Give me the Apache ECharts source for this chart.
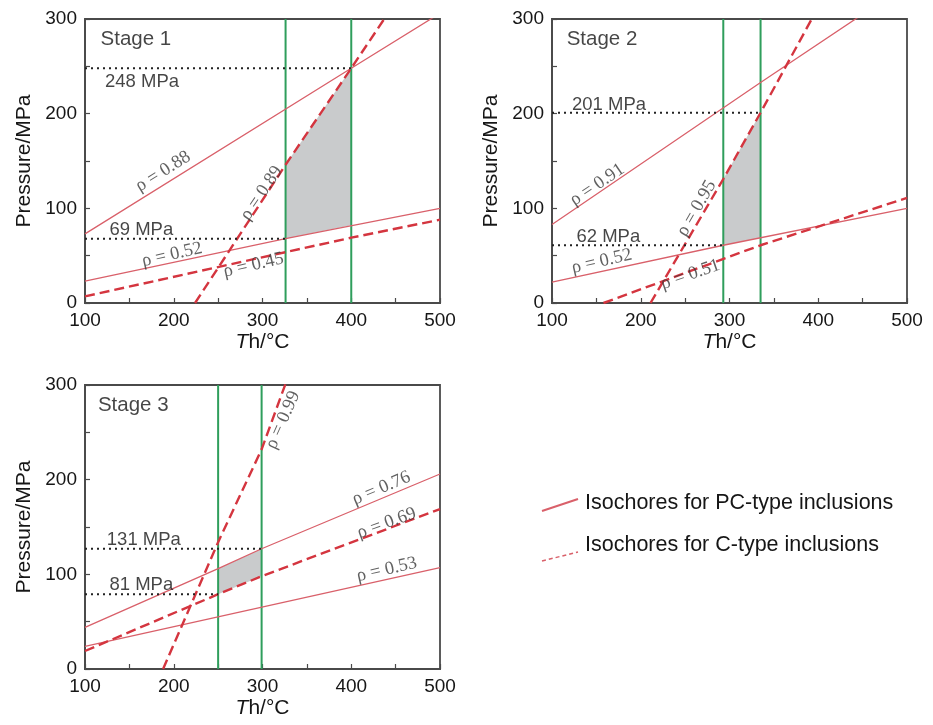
<!DOCTYPE html>
<html>
<head>
<meta charset="utf-8">
<script src="https://cdn.jsdelivr.net/npm/echarts@6/dist/echarts.min.js"></script>
<style>
html,body{margin:0;padding:0;background:#fff;}
#chart{width:933px;height:725px;}
</style>
</head>
<body>
<div id="chart"></div>
<script>
// ---------- Axis ranges / ticks ----------
const xRange = [100, 500];
const yRange = [0, 300];
const tickStep = 50;
const labelStep = 100;

// ---------- Stage 1 ----------
const s1_pc088 = [[100, 73], [400, 248], [500, 306]];
const s1_pc052 = [[100, 23], [326, 68], [500, 100]];
const s1_c089 = [[224, 0], [326, 146], [400, 248], [440, 304]];
const s1_c045 = [[100, 7], [400, 69], [500, 88]];
const s1_th = [326, 400];
const s1_press = [248, 68];
const s1_pressEnd = [400, 326];
const s1_pressText = ['248 MPa', '69 MPa'];
const s1_fill = [[326, 68], [326, 146], [400, 248], [400, 82]];

// ---------- Stage 2 ----------
const s2_pc091 = [[100, 83], [335, 233], [450, 305]];
const s2_pc052 = [[100, 22], [293, 61], [500, 100]];
const s2_c095 = [[211, 0], [293, 131], [335, 201], [395, 304]];
const s2_c051 = [[158, 0], [335, 61], [500, 111]];
const s2_th = [293, 335];
const s2_press = [201, 61];
const s2_pressEnd = [335, 293];
const s2_pressText = ['201 MPa', '62 MPa'];
const s2_fill = [[293, 61], [293, 131], [335, 201], [335, 69]];

// ---------- Stage 3 ----------
const s3_pc076 = [[100, 44], [250, 106], [299, 127], [500, 206]];
const s3_c069 = [[100, 19], [250, 79], [299, 98], [500, 169]];
const s3_pc053 = [[100, 24], [500, 107]];
const s3_c099 = [[188, 0], [250, 134], [299, 232], [327, 304]];
const s3_th = [250, 299];
const s3_press = [127, 79];
const s3_pressEnd = [299, 250];
const s3_pressText = ['131 MPa', '81 MPa'];
const s3_fill = [[250, 79], [250, 106], [299, 127], [299, 98]];

// ---------- Density labels: [x, P, text, angle] ----------
const s1_rhoLabels = [[188, 139, 'ρ = 0.88', 32], [299, 116, 'ρ = 0.89', 56], [198, 51, 'ρ = 0.52', 13], [290, 40, 'ρ = 0.45', 13]];
const s2_rhoLabels = [[151, 125, 'ρ = 0.91', 34], [263, 100, 'ρ = 0.95', 60], [156, 44, 'ρ = 0.52', 13], [256, 30, 'ρ = 0.51', 19]];
const s3_rhoLabels = [[323, 263, 'ρ = 0.99', 66], [434, 191, 'ρ = 0.76', 23], [440, 154, 'ρ = 0.69', 20], [440, 105, 'ρ = 0.53', 13]];
const stageText = ['Stage 1', 'Stage 2', 'Stage 3'];
const stagePos = [[117, 279], [116, 279], [114, 278]];
const pressLabelPos = [[[122, 234], [127, 77]], [[122, 209], [127, 70]], [[124, 136], [127, 89]]];

const legendText = ['Isochores for PC-type inclusions', 'Isochores for C-type inclusions'];

// ---------- Styles ----------
const SANS = 'Liberation Sans, Arial, sans-serif';
const SERIF = 'Liberation Serif, Times New Roman, serif';
const PC_COLOR = '#d9606a';
const C_COLOR = '#d4353f';
const GREEN = '#2f9e5c';
const FRAME = '#4a4a4a';
const FILL = '#c9cbcc';
const TXT = '#161616';

const grids = [
  {left: 85, top: 19, width: 355, height: 284},
  {left: 552, top: 19, width: 355, height: 284},
  {left: 85, top: 385, width: 355, height: 284}
];

function xAxisFor(i) {
  return {
    gridIndex: i, type: 'value', min: xRange[0], max: xRange[1], interval: tickStep,
    name: '{i|T}h/°C', nameLocation: 'middle', nameGap: 29,
    nameTextStyle: {fontFamily: SANS, fontSize: 21, color: TXT,
      rich: {i: {fontStyle: 'italic', fontFamily: SANS, fontSize: 21, color: TXT}}},
    axisLine: {show: true, lineStyle: {color: FRAME, width: 1.8}},
    axisTick: {show: true, inside: true, length: 5, lineStyle: {color: FRAME, width: 1.2}},
    axisLabel: {fontFamily: SANS, fontSize: 19, color: TXT, margin: 8,
      formatter: v => (v % labelStep === 0 ? String(v) : '')},
    splitLine: {show: false}
  };
}
function yAxisFor(i) {
  return {
    gridIndex: i, type: 'value', min: yRange[0], max: yRange[1], interval: tickStep,
    name: 'Pressure/MPa', nameLocation: 'middle', nameGap: 50,
    nameTextStyle: {fontFamily: SANS, fontSize: 21, color: TXT},
    axisLine: {show: true, lineStyle: {color: FRAME, width: 1.8}},
    axisTick: {show: true, inside: true, length: 5, lineStyle: {color: FRAME, width: 1.2}},
    axisLabel: {fontFamily: SANS, fontSize: 19, color: TXT, margin: 8,
      formatter: v => (v % labelStep === 0 ? String(v) : '')},
    splitLine: {show: false}
  };
}

function lineSeries(i, data, kind) {
  const dashed = kind === 'C';
  return {
    type: 'line', xAxisIndex: i, yAxisIndex: i, data: data, showSymbol: false, symbol: 'none',
    clip: true, silent: true, z: 5,
    lineStyle: dashed ? {color: C_COLOR, width: 2.4, type: [10, 5]} : {color: PC_COLOR, width: 1.3}
  };
}
function thSeries(i, xs) {
  return xs.map(x => ({
    type: 'line', xAxisIndex: i, yAxisIndex: i, data: [[x, yRange[0]], [x, yRange[1]]],
    symbol: 'none', silent: true, z: 4, lineStyle: {color: GREEN, width: 2}
  }));
}
function pressSeries(i, ps, ends) {
  return ps.map((p, k) => ({
    type: 'line', xAxisIndex: i, yAxisIndex: i, data: [[xRange[0], p], [ends[k], p]],
    symbol: 'none', silent: true, z: 6, lineStyle: {color: '#222', width: 2, type: [2, 4]}
  }));
}
function fillSeries(i, poly) {
  return {
    type: 'custom', xAxisIndex: i, yAxisIndex: i, data: [0], silent: true, z: 1,
    renderItem: (params, api) => ({
      type: 'polygon',
      shape: {points: poly.map(p => api.coord(p))},
      style: {fill: FILL, stroke: null}
    })
  };
}
function textSeries(i, items, opts) {
  return {
    type: 'scatter', xAxisIndex: i, yAxisIndex: i, symbolSize: 1, silent: true, z: 10,
    itemStyle: {color: 'rgba(0,0,0,0)'},
    data: items.map(it => ({
      value: [it[0], it[1]],
      label: Object.assign({show: true, formatter: it[2], rotate: it[3] || 0}, opts)
    }))
  };
}

function panel(i, pcLines, cLines, th, press, pressEnd, pressText, fill, rhoLabels) {
  const s = [];
  s.push(fillSeries(i, fill));
  pcLines.forEach(d => s.push(lineSeries(i, d, 'PC')));
  cLines.forEach(d => s.push(lineSeries(i, d, 'C')));
  thSeries(i, th).forEach(x => s.push(x));
  pressSeries(i, press, pressEnd).forEach(x => s.push(x));
  s.push(textSeries(i, rhoLabels, {position: 'inside', align: 'center', verticalAlign: 'middle',
    fontFamily: SERIF, fontSize: 18.5, color: '#3a3a3a'}));
  s.push(textSeries(i, pressLabelPos[i].map((p, k) => [p[0], p[1], pressText[k]]),
    {position: 'right', distance: 0, fontFamily: SANS, fontSize: 18.5, color: TXT}));
  s.push(textSeries(i, [[stagePos[i][0], stagePos[i][1], stageText[i]]],
    {position: 'right', distance: 0, fontFamily: SANS, fontSize: 20.5, color: TXT}));
  return s;
}

const series = [].concat(
  panel(0, [s1_pc088, s1_pc052], [s1_c089, s1_c045], s1_th, s1_press, s1_pressEnd, s1_pressText, s1_fill, s1_rhoLabels),
  panel(1, [s2_pc091, s2_pc052], [s2_c095, s2_c051], s2_th, s2_press, s2_pressEnd, s2_pressText, s2_fill, s2_rhoLabels),
  panel(2, [s3_pc076, s3_pc053], [s3_c069, s3_c099], s3_th, s3_press, s3_pressEnd, s3_pressText, s3_fill, s3_rhoLabels)
);

const chart = echarts.init(document.getElementById('chart'), null, {renderer: 'canvas'});
chart.setOption({
  animation: false,
  backgroundColor: '#fff',
  grid: grids.map(g => Object.assign({show: true, borderColor: FRAME, borderWidth: 1.8, backgroundColor: 'transparent', containLabel: false}, g)),
  xAxis: [0, 1, 2].map(xAxisFor),
  yAxis: [0, 1, 2].map(yAxisFor),
  series: series,
  graphic: [
    {type: 'line', shape: {x1: 542, y1: 511, x2: 578, y2: 499}, style: {stroke: PC_COLOR, lineWidth: 2}},
    {type: 'text', left: 585, top: 492, style: {text: legendText[0], font: '21.5px ' + SANS, fill: TXT}},
    {type: 'line', shape: {x1: 542, y1: 561, x2: 578, y2: 552}, style: {stroke: PC_COLOR, lineWidth: 1.5, lineDash: [4, 3]}},
    {type: 'text', left: 585, top: 534, style: {text: legendText[1], font: '21.5px ' + SANS, fill: TXT}}
  ]
});
</script>
</body>
</html>
